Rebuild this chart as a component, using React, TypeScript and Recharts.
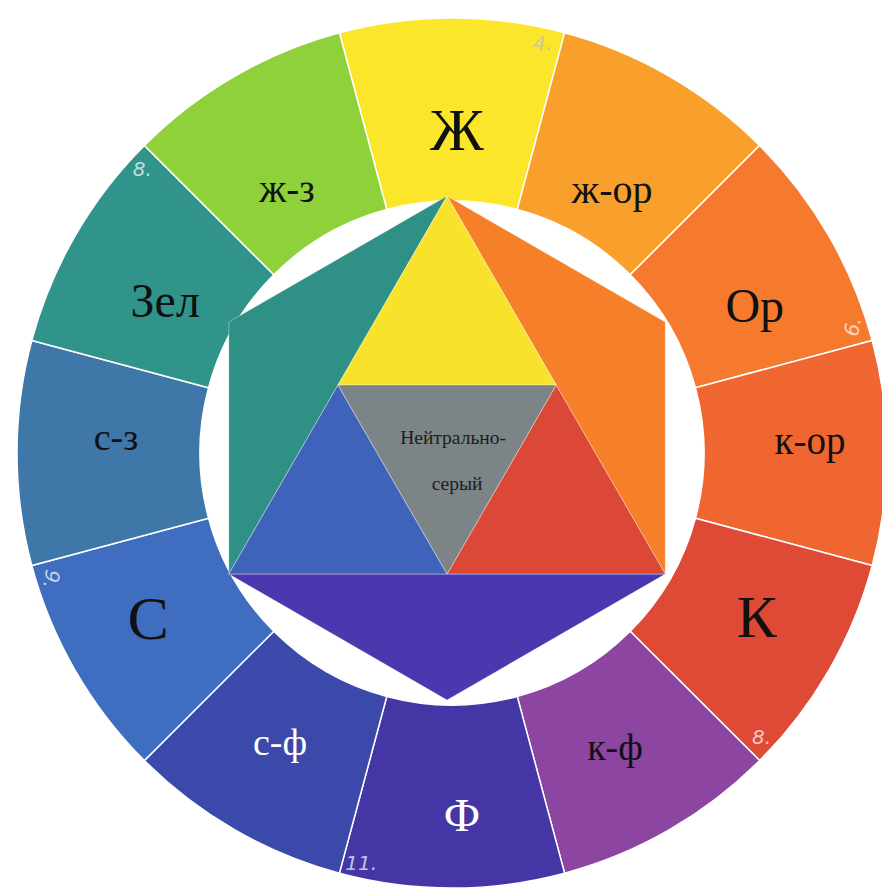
import { PieChart, Pie, Cell, ScatterChart, Scatter, XAxis, YAxis, Polygon } from "recharts";

// outer ring, clockwise from the top
const segments = ["Ж", "ж-ор", "Ор", "к-ор", "К", "к-ф", "Ф", "с-ф", "С", "с-з", "Зел", "ж-з"];
const segmentShare = [1, 1, 1, 1, 1, 1, 1, 1, 1, 1, 1, 1];
const paperMarks = ["4.", "", "6.", "", "8.", "", "11.", "", "9.", "", "8.", ""];

// inner figure, hexagon of radius 1
const yellowTri = [{ x: 0, y: 1 }, { x: 0.433, y: 0.25 }, { x: -0.433, y: 0.25 }];
const grayTri = [{ x: -0.433, y: 0.25 }, { x: 0.433, y: 0.25 }, { x: 0, y: -0.5 }];
const redTri = [{ x: 0.433, y: 0.25 }, { x: 0.866, y: -0.5 }, { x: 0, y: -0.5 }];
const blueTri = [{ x: -0.433, y: 0.25 }, { x: 0, y: -0.5 }, { x: -0.866, y: -0.5 }];
const orangeTri = [{ x: 0, y: 1 }, { x: 0.866, y: 0.5 }, { x: 0.866, y: -0.5 }];
const violetTri = [{ x: 0.866, y: -0.5 }, { x: 0, y: -1 }, { x: -0.866, y: -0.5 }];
const greenTri = [{ x: -0.866, y: -0.5 }, { x: -0.866, y: 0.5 }, { x: 0, y: 1 }];
const centerText = [
  { x: 0.024, y: 0.04, t: "Нейтрально-" },
  { x: 0.04, y: -0.14, t: "серый" },
];

const ringColors = ["#fbe62b", "#f9a02c", "#f57a2d", "#ef6630", "#de4a36", "#8c45a0", "#4536a6", "#3a49aa", "#3f6ec0", "#3e77a8", "#30948a", "#8fd13a"];
const ringText = ["#111", "#111", "#111", "#111", "#111", "#111", "#fff", "#fff", "#111", "#111", "#111", "#111"];
const ringFont = [60, 40, 48, 39, 60, 38, 46, 38, 62, 38, 48, 39];
const ringNudge = [[5, 7], [-5, 22], [17, 17], [28, -13], [19, -1], [-2, 8], [10, 32], [-7, 3], [-18, 0], [-6, -16], [-1, 12], [0, 21]];
const markRotate = [0, 0, -80, 0, 0, 0, 0, 0, 100, 0, 0, 0];

const RAD = Math.PI / 180;
const W = 882;
const H = 888;

const ringData = segments.map((name, i) => ({ name, value: segmentShare[i] }));

function ringLabel(p: any) {
  const i = p.index;
  const a = -p.midAngle * RAD;
  const x = p.cx + 330 * Math.cos(a) + ringNudge[i][0];
  const y = p.cy + 330 * Math.sin(a) + ringNudge[i][1];
  const ma = -(p.midAngle - 12.5) * RAD;
  const mx = p.cx + 420 * Math.cos(ma);
  const my = p.cy + 420 * Math.sin(ma);
  return (
    <g key={`lbl-${i}`}>
      <text x={x} y={y} textAnchor="middle" dominantBaseline="central" fill={ringText[i]}
        fontFamily="'Liberation Serif', serif" fontSize={ringFont[i]}>
        {segments[i]}
      </text>
      {paperMarks[i] && (
        <text x={mx} y={my} textAnchor="middle" dominantBaseline="central"
          fill={i === 0 ? "#cdc6a0" : "rgba(255,255,255,0.7)"} fontFamily="'DejaVu Sans', sans-serif"
          fontStyle="italic" fontSize={20} transform={`rotate(${markRotate[i]} ${mx} ${my})`}>
          {paperMarks[i]}
        </text>
      )}
    </g>
  );
}

const shapes = [
  { pts: greenTri, fill: "#2f9185" },
  { pts: orangeTri, fill: "#f6802a" },
  { pts: violetTri, fill: "#4a38ae" },
  { pts: yellowTri, fill: "#f8e22b" },
  { pts: redTri, fill: "#dc4836" },
  { pts: blueTri, fill: "#3f63ba" },
  { pts: grayTri, fill: "#7c8487" },
];

export default function App() {
  return (
    <div style={{ position: "absolute", left: 0, top: 0, width: W, height: H, background: "#fff" }}>
      <PieChart width={W} height={H} style={{ position: "absolute", left: 0, top: 0 }}>
        <Pie data={ringData} dataKey="value" cx={447} cy={448} innerRadius={252} outerRadius={435}
          startAngle={105} endAngle={-255} stroke="#fff" strokeWidth={1.5}
          label={ringLabel} labelLine={false} isAnimationActive={false}>
          {ringData.map((d, i) => (
            <Cell key={d.name} fill={ringColors[i]} />
          ))}
        </Pie>
      </PieChart>
      <ScatterChart width={W} height={H} margin={{ top: 0, right: 0, bottom: 0, left: 0 }}
        style={{ position: "absolute", left: 0, top: 0 }}>
        <XAxis type="number" dataKey="x" domain={[-1.774, 1.726]} hide allowDataOverflow />
        <YAxis type="number" dataKey="y" domain={[-1.746, 1.778]} hide allowDataOverflow />
        {shapes.map((s, i) => (
          <Scatter key={i} data={s.pts} isAnimationActive={false} shape={() => <g />}
            line={(lp: any) => (
              <Polygon points={lp.points} fill={s.fill} stroke="rgba(255,255,255,0.35)" strokeWidth={1} />
            )} />
        ))}
        <Scatter data={centerText} isAnimationActive={false}
          shape={(p: any) => (
            <text x={p.cx} y={p.cy} textAnchor="middle" dominantBaseline="central" fill="#1c1c1c"
              fontFamily="'Liberation Serif', serif" fontSize={19.5}>
              {p.payload.t}
            </text>
          )} />
      </ScatterChart>
    </div>
  );
}
